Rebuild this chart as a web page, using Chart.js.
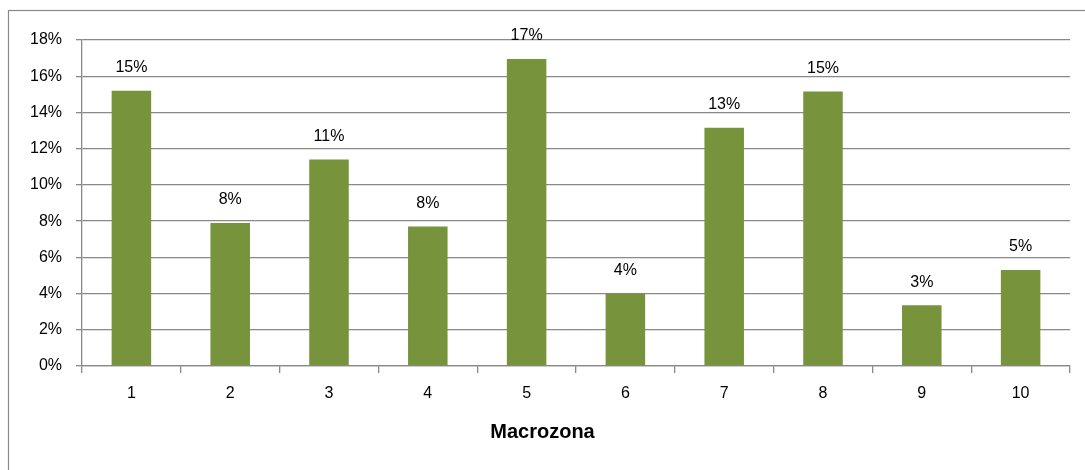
<!DOCTYPE html>
<html>
<head>
<meta charset="utf-8">
<script src="https://cdn.jsdelivr.net/npm/chart.js@4"></script>
<style>
  html, body { margin: 0; padding: 0; background: #fff; }
  #wrap { width: 1085px; height: 470px; }
</style>
</head>
<body>
<div id="wrap"><canvas id="macrozonas"></canvas></div>
<script>
// Participación por macrozona (%)
const macrozonas = ['1', '2', '3', '4', '5', '6', '7', '8', '9', '10'];
const porcentajes = [15.2, 7.9, 11.4, 7.7, 16.95, 4.0, 13.15, 15.15, 3.35, 5.3];
const ticksY = [0, 2, 4, 6, 8, 10, 12, 14, 16, 18];
const tituloX = 'Macrozona';

const FUENTE = '"Liberation Sans", Arial, sans-serif';
const GRIS = '#898989';

// marco exterior y título del eje X (centrado en todo el gráfico)
const marco = {
    id: 'marco',
    afterDraw(chart) {
        const c = chart.ctx;
        c.save();
        c.strokeStyle = GRIS;
        c.lineWidth = 1.2;
        c.strokeRect(8.5, 10.5, chart.width + 20, chart.height + 20);
        c.font = 'bold 20px ' + FUENTE;
        c.fillStyle = '#000';
        c.textAlign = 'center';
        c.textBaseline = 'middle';
        c.fillText(tituloX, chart.width / 2, 432);
        c.restore();
    }
};

// etiquetas de valor sobre cada barra
const etiquetas = {
    id: 'etiquetas',
    afterDatasetsDraw(chart) {
        const c = chart.ctx;
        const meta = chart.getDatasetMeta(0);
        c.save();
        c.font = '16px ' + FUENTE;
        c.fillStyle = '#000';
        c.textAlign = 'center';
        c.textBaseline = 'middle';
        meta.data.forEach((bar, i) => {
            c.fillText(Math.round(porcentajes[i]) + '%', bar.x, bar.y - 23);
        });
        c.restore();
    }
};

const ctx = document.getElementById('macrozonas').getContext('2d');

new Chart(ctx, {
    type: 'bar',
    data: {
        labels: macrozonas,
        datasets: [{
            data: porcentajes,
            backgroundColor: '#77933C',
            borderWidth: 0,
            categoryPercentage: 1,
            barPercentage: 0.4
        }]
    },
    plugins: [marco, etiquetas],
    options: {
        responsive: true,
        maintainAspectRatio: false,
        animation: false,
        layout: { padding: { left: 0, right: 15, top: 40, bottom: 0 } },
        plugins: {
            legend: { display: false },
            tooltip: { enabled: false }
        },
        scales: {
            x: {
                grid: {
                    offset: true,
                    drawOnChartArea: false,
                    color: GRIS,
                    lineWidth: 1.3,
                    tickLength: 7
                },
                border: { color: GRIS, width: 1.3 },
                ticks: {
                    color: '#000',
                    padding: 11,
                    font: { family: FUENTE, size: 16 }
                },
                afterFit(scale) { scale.height = 104; }
            },
            y: {
                min: 0,
                max: 18,
                afterBuildTicks(scale) {
                    scale.ticks = ticksY.map(v => ({ value: v }));
                },
                grid: {
                    color: GRIS,
                    lineWidth: 1.3,
                    tickLength: 6
                },
                border: { color: GRIS, width: 1.3 },
                ticks: {
                    color: '#000',
                    padding: 14,
                    font: { family: FUENTE, size: 16 },
                    callback: v => v + '%'
                },
                afterFit(scale) { scale.width = 82; }
            }
        }
    }
});
</script>
</body>
</html>
